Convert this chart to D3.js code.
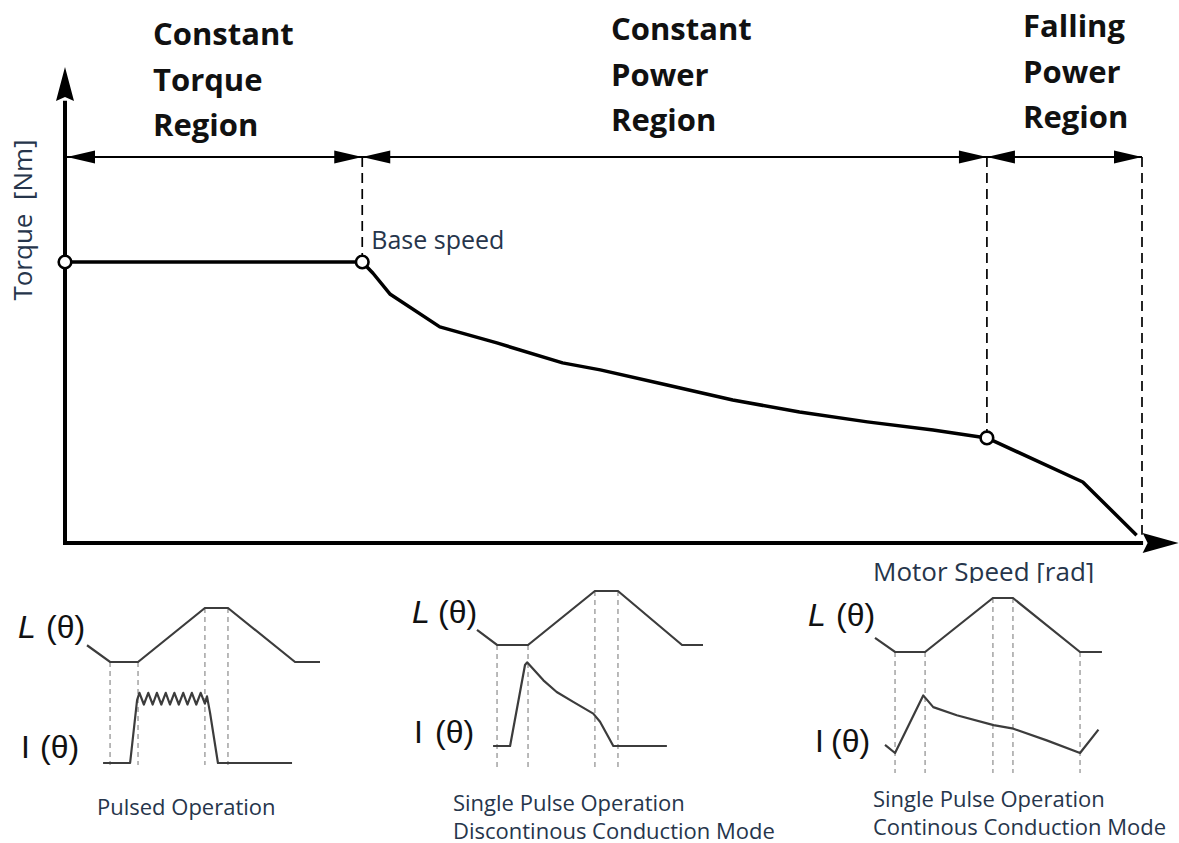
<!DOCTYPE html>
<html lang="en">
<head>
<meta charset="UTF-8">
<title>Torque-speed regions</title>
<script src="https://cdn.jsdelivr.net/npm/d3@7"></script>
<style>
  body { margin: 0; background: #fff; }
  svg { display: block; }
  text { font-family: "Open Sans", sans-serif; }
  .region { font-weight: bold; font-size: 31px; fill: #111; }
  .note { fill: #26354b; }
  .sym { font-family: "Liberation Sans", Arial, sans-serif; font-size: 32px; fill: #111; }
</style>
</head>
<body>
<svg width="1179" height="843"></svg>
<script>
// torque-speed envelope (speed in % of max speed, torque in % of rated torque)
var speed  = [0, 27.6, 28.6, 30.2, 34.8, 40.1, 46.2, 49.7, 55.9, 62.0, 68.2, 74.5, 80.6, 85.6, 94.5, 99.5];
var torque = [100, 100, 96.0, 88.5, 76.9, 71.2, 64.1, 61.6, 56.2, 50.9, 46.6, 43.1, 40.2, 37.4, 21.7, 2.8];
var cornerSpeed  = [0, 27.6, 85.6];
var cornerTorque = [100, 100, 37.4];
var regionBounds = [0, 27.6, 85.6, 100];
var regionNames = [["Constant", "Torque", "Region"], ["Constant", "Power", "Region"], ["Falling", "Power", "Region"]];

// phase inductance and current over one stroke (theta in % of stroke, values normalised)
var lTheta1 = [0, 9.9, 21.9, 50.6, 60.5, 89.3, 100];
var lVal1   = [0.31, 0, 0, 1, 1, 0, 0];
var iTheta1 = [6.9, 18.5, 21.5, 22.5, 24.4, 26.3, 28.2, 30.0, 31.9, 33.8, 35.6, 37.5, 39.4, 41.3, 43.1, 45.0, 46.9, 48.8, 50.6, 51.5, 52.8, 56.2, 88];
var iVal1   = [0, 0, 0.70, 0.78, 0.65, 0.78, 0.65, 0.78, 0.65, 0.78, 0.65, 0.78, 0.65, 0.78, 0.65, 0.78, 0.65, 0.78, 0.66, 0.74, 0.56, 0, 0];
var marks1  = [9.9, 21.9, 50.6, 60.5];

var lTheta2 = [0, 8.6, 21.9, 50.6, 60.5, 88, 97];
var lVal2   = [0.28, 0, 0, 1, 1, 0, 0];
var iTheta2 = [6.9, 14.2, 20.6, 21.5, 28.5, 34.2, 41.3, 49.9, 52.8, 56.4, 58.5, 81.5];
var iVal2   = [0, 0, 0.90, 0.93, 0.73, 0.60, 0.49, 0.36, 0.27, 0.10, 0, 0];
var marks2  = [8.6, 21.9, 50.6, 60.5];

var lTheta3 = [0, 8.6, 21.5, 50.6, 59.2, 88, 97.4];
var lVal3   = [0.26, 0, 0, 1, 1, 0, 0];
var iTheta3 = [4.3, 8.6, 20.7, 25.0, 35.1, 50.9, 59.4, 73.7, 88, 95.9];
var iVal3   = [0.09, 0, 0.64, 0.51, 0.42, 0.31, 0.27, 0.14, 0, 0.26];
var marks3  = [8.6, 21.5, 50.6, 59.2, 88];

var panelTitles = [["Pulsed Operation"], ["Single Pulse Operation", "Discontinous Conduction Mode"], ["Single Pulse Operation", "Continous Conduction Mode"]];

var svg = d3.select("svg");

// ---------- main torque / speed chart ----------
var x = d3.scaleLinear().domain([0, 100]).range([65, 1142]);
var y = d3.scaleLinear().domain([0, 100]).range([543, 262]);
var axisEnd = 103.4, torqueTop = 169.4, regionLevel = 137.4;

var main = svg.append("g");

// axes
main.append("path")
    .attr("d", "M" + x(0) + "," + y(torqueTop - 12) + "V" + y(0) + "H" + x(axisEnd - 3.3))
    .attr("fill", "none").attr("stroke", "#000").attr("stroke-width", 4);
main.append("path")
    .attr("d", "M" + x(0) + "," + y(torqueTop) + "L" + (x(0) - 9) + "," + (y(torqueTop) + 34) +
               "L" + x(0) + "," + (y(torqueTop) + 30) + "L" + (x(0) + 9) + "," + (y(torqueTop) + 34) + "Z")
    .attr("fill", "#000");
main.append("path")
    .attr("d", "M" + x(axisEnd) + "," + y(0) + "L" + (x(axisEnd) - 36) + "," + (y(0) - 10) +
               "L" + (x(axisEnd) - 31) + "," + y(0) + "L" + (x(axisEnd) - 36) + "," + (y(0) + 10) + "Z")
    .attr("fill", "#000");

// region dimension line with arrowheads
main.append("line")
    .attr("x1", x(0)).attr("x2", x(100))
    .attr("y1", y(regionLevel)).attr("y2", y(regionLevel))
    .attr("stroke", "#000").attr("stroke-width", 2);

var heads = [];
regionBounds.forEach(function(b, i) {
    if (i > 0) heads.push({at: b, dir: 1});
    if (i < regionBounds.length - 1) heads.push({at: b, dir: -1});
});
main.selectAll(".head").data(heads).enter().append("path")
    .attr("class", "head")
    .attr("d", function(d) {
        var tx = x(d.at) + (d.at === 0 ? 2 : 0), ty = y(regionLevel);
        return "M" + tx + "," + ty + "L" + (tx - d.dir * 28) + "," + (ty - 6.5) +
               "L" + (tx - d.dir * 28) + "," + (ty + 6.5) + "Z";
    })
    .attr("fill", "#000");

// dashed drop lines from the region boundaries
var drops = regionBounds.slice(1).map(function(b) {
    var i = speed.indexOf(b);
    return {s: b, t: i >= 0 ? torque[i] : 0.8};
});
main.selectAll(".drop").data(drops).enter().append("line")
    .attr("x1", function(d) { return x(d.s); }).attr("x2", function(d) { return x(d.s); })
    .attr("y1", y(regionLevel)).attr("y2", function(d) { return y(d.t) - 6; })
    .attr("stroke", "#000").attr("stroke-width", 1.7).attr("stroke-dasharray", "10,6");

// torque envelope
var line = d3.line().x(function(d) { return x(d[0]); }).y(function(d) { return y(d[1]); });
main.append("path")
    .datum(d3.zip(speed, torque))
    .attr("d", line)
    .attr("fill", "none").attr("stroke", "#000").attr("stroke-width", 3.5)
    .attr("stroke-linejoin", "round");

main.selectAll(".corner").data(d3.zip(cornerSpeed, cornerTorque)).enter().append("circle")
    .attr("cx", function(d) { return x(d[0]); })
    .attr("cy", function(d) { return y(d[1]); })
    .attr("r", 6.3)
    .attr("fill", "#fff").attr("stroke", "#000").attr("stroke-width", 2.6);

// region titles
var titlePos = [{x: 153, y: 45}, {x: 611, y: 40}, {x: 1023, y: 37}];
regionNames.forEach(function(words, i) {
    main.append("text").attr("class", "region")
        .selectAll("tspan").data(words).enter().append("tspan")
        .attr("x", titlePos[i].x)
        .attr("y", function(d, j) { return titlePos[i].y + j * 45.5; })
        .text(function(d) { return d; });
});

main.append("text").attr("class", "note")
    .attr("transform", "translate(32,220) rotate(-90)")
    .attr("text-anchor", "middle")
    .attr("font-size", 26)
    .attr("fill", "#23395d")
    .attr("xml:space", "preserve")
    .text("Torque  [Nm]");

main.append("text").attr("class", "note")
    .attr("x", x(27.6) + 9).attr("y", 249)
    .attr("font-size", 25)
    .text("Base speed");

svg.append("clipPath").attr("id", "cut")
    .append("rect").attr("x", 0).attr("y", 0).attr("width", 1179).attr("height", 583);
main.append("text").attr("class", "note")
    .attr("clip-path", "url(#cut)")
    .attr("x", 873).attr("y", 581)
    .attr("font-size", 26)
    .text("Motor Speed [rad]");

// ---------- three waveform panels ----------
var theta = d3.scaleLinear().domain([0, 100]).range([0, 233]);
var lS = d3.scaleLinear().domain([0, 1]).range([54, 0]);
var iS = d3.scaleLinear().domain([0, 1]).range([155, 65]);

var panels = [
    {lT: lTheta1, lV: lVal1, iT: iTheta1, iV: iVal1, marks: marks1},
    {lT: lTheta2, lV: lVal2, iT: iTheta2, iV: iVal2, marks: marks2},
    {lT: lTheta3, lV: lVal3, iT: iTheta3, iV: iVal3, marks: marks3}
];
var panelLayout = [
    {dx: 87,  top: 608, dashEnd: 157, lx: 18,  ly: 638, px: 46,  ix: 21,  iy: 758, ipx: 40,  cx: 97,  cy: 815},
    {dx: 477, top: 591, dashEnd: 179, lx: 412, ly: 623, px: 438, ix: 414, iy: 743, ipx: 435, cx: 453, cy: 811},
    {dx: 875, top: 598, dashEnd: 175, lx: 808, ly: 626, px: 836, ix: 815, iy: 752, ipx: 831, cx: 873, cy: 807}
];

var lLine = d3.line().x(function(d) { return theta(d[0]); }).y(function(d) { return lS(d[1]); });
var iLine = d3.line().x(function(d) { return theta(d[0]); }).y(function(d) { return iS(d[1]); });

panels.forEach(function(p, k) {
    var lay = panelLayout[k];
    var g = svg.append("g").attr("transform", "translate(" + lay.dx + "," + lay.top + ")");

    // alignment marks: L value at each mark read from the profile
    g.selectAll(".mark").data(p.marks).enter().append("line")
        .attr("x1", function(d) { return theta(d); }).attr("x2", function(d) { return theta(d); })
        .attr("y1", function(d) { return lS(p.lV[p.lT.indexOf(d)]); })
        .attr("y2", lay.dashEnd)
        .attr("stroke", "#a9a9a9").attr("stroke-width", 1.6).attr("stroke-dasharray", "5,4");

    g.append("path").datum(d3.zip(p.lT, p.lV)).attr("d", lLine)
        .attr("fill", "none").attr("stroke", "#3c3c3c").attr("stroke-width", 2.2);
    g.append("path").datum(d3.zip(p.iT, p.iV)).attr("d", iLine)
        .attr("fill", "none").attr("stroke", "#3c3c3c").attr("stroke-width", 2.2)
        .attr("stroke-linejoin", "round");

    svg.append("text").attr("class", "sym").attr("x", lay.lx).attr("y", lay.ly)
        .attr("font-style", "italic").attr("font-size", 34).text("L");
    svg.append("text").attr("class", "sym").attr("x", lay.px).attr("y", lay.ly).text("(θ)");
    svg.append("text").attr("class", "sym").attr("x", lay.ix).attr("y", lay.iy)
        .attr("font-size", 36).attr("fill", "#1b2d4f").text("I");
    svg.append("text").attr("class", "sym").attr("x", lay.ipx).attr("y", lay.iy).text("(θ)");

    svg.append("text").attr("class", "note").attr("font-size", 22)
        .selectAll("tspan").data(panelTitles[k]).enter().append("tspan")
        .attr("x", lay.cx)
        .attr("y", function(d, j) { return lay.cy + j * 27.5; })
        .text(function(d) { return d; });
});
</script>
</body>
</html>
